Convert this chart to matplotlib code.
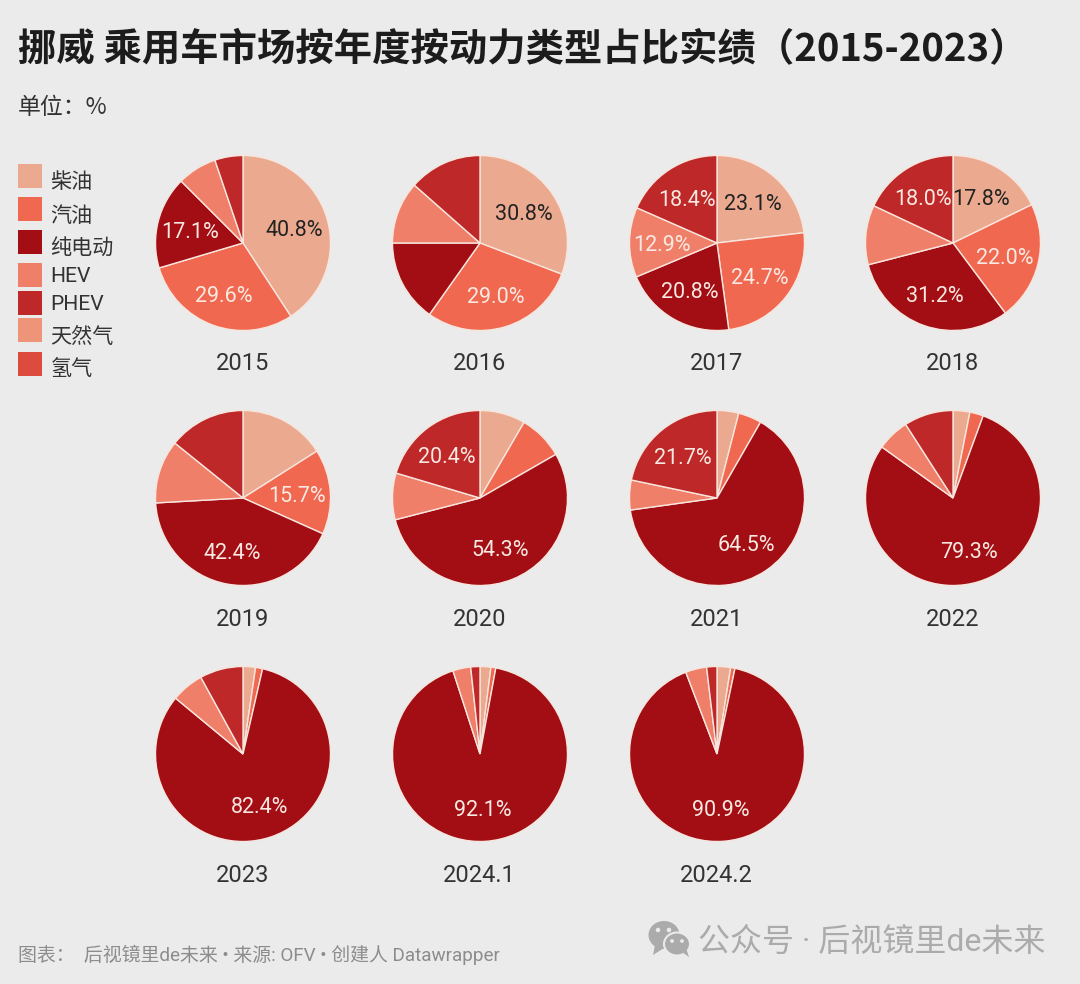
import numpy as np
import matplotlib
matplotlib.use('Agg')
import matplotlib.pyplot as plt
from matplotlib.patches import Rectangle, Ellipse, Polygon

plt.rcParams['font.family'] = ['Roboto', 'Noto Sans CJK SC', 'DejaVu Sans']

W, H = 1080, 984
BG = '#EBEBEB'

types = ['柴油', '汽油', '纯电动', 'HEV', 'PHEV', '天然气', '氢气']
colors = ['#EBAA90', '#F06850', '#A30D14', '#EF7F68', '#BE2828', '#EE9478', '#DC4B3E']

years = ['2015', '2016', '2017', '2018', '2019', '2020', '2021', '2022', '2023', '2024.1', '2024.2']

# share per year, in the order of types (only the first five are visible)
diesel = [40.8, 30.8, 23.1, 17.8, 16.0, 8.4, 4.0, 3.1, 2.3, 2.0, 2.5]
petrol = [29.6, 29.0, 24.7, 22.0, 15.7, 8.3, 4.3, 2.5, 1.3, 0.9, 0.8]
bev = [17.1, 15.2, 20.8, 31.2, 42.4, 54.3, 64.5, 79.3, 82.4, 92.1, 90.9]
hev = [7.3, 11.5, 12.9, 11.0, 11.7, 8.6, 5.5, 6.0, 6.0, 3.3, 3.9]
phev = [5.2, 13.5, 18.4, 18.0, 14.2, 20.4, 21.7, 9.1, 8.0, 1.7, 1.9]

# which slices carry a label, per year
labelled = [
    [0, 1, 2], [0, 1], [0, 1, 2, 3, 4], [0, 1, 2, 4], [1, 2], [2, 4],
    [2, 4], [2], [2], [2], [2],
]

legend_tops = [164, 197, 230, 263, 291, 318, 352]
legend_text_y = [182, 216, 249, 277, 305, 337, 369]
centers_x = [243, 480, 717, 953]
centers_y = [243, 498, 754]
year_y = [364, 620, 875]
R = 87.5

fig = plt.figure(figsize=(W / 100, H / 100), dpi=100, facecolor=BG)

# overlay in pixel coordinates for the text and the legend
bg = fig.add_axes([0, 0, 1, 1])
bg.set_xlim(0, W)
bg.set_ylim(H, 0)
bg.axis('off')

bg.text(18, 49, '挪威 乘用车市场按年度按动力类型占比实绩（2015-2023）', fontsize=27.6, fontweight='bold',
        family=['Noto Sans CJK SC'], color='#1c1c1c', va='center')
bg.text(18, 107, '单位：%', fontsize=16.5, color='#333333', va='center',
        family=['Noto Sans CJK SC'])

for name, col, top, ty in zip(types, colors, legend_tops, legend_text_y):
    bg.add_patch(Rectangle((18, top), 24, 24, fc=col, ec='none'))
    bg.text(50.5, ty, name, fontsize=15.2, color='#333333', va='center')

for i, year in enumerate(years):
    row, col = i // 4, i % 4
    cx, cy = centers_x[col], centers_y[row]
    ax = fig.add_axes([(cx - R - 2) / W, 1 - (cy + R + 2) / H, (2 * R + 4) / W, (2 * R + 4) / H])
    vals = [diesel[i], petrol[i], bev[i], hev[i], phev[i]]
    wedges, _ = ax.pie(vals, colors=colors[:5], startangle=90, counterclock=False, radius=R,
                       wedgeprops={'edgecolor': '#F7E6DE', 'linewidth': 1.0})
    ax.set_xlim(-R - 2, R + 2)
    ax.set_ylim(-R - 2, R + 2)
    for k in labelled[i]:
        mid = np.radians((wedges[k].theta1 + wedges[k].theta2) / 2)
        ax.text(0.62 * R * np.cos(mid) - 0.5, 0.62 * R * np.sin(mid) - 2.5, '%.1f%%' % vals[k], fontsize=15.5,
                color='#222222' if k == 0 else '#F8E9E2', ha='center', va='center')
    bg.text(cx - 0.5, year_y[row], year, fontsize=17, color='#333333', ha='center', va='center')

# footer
bg.text(18, 955, '图表：  后视镜里de未来 • 来源: OFV • 创建人 Datawrapper', fontsize=13.6,
        color='#8C8C8C', va='center')

# watermark
grey = '#ABABAB'
bg.add_patch(Ellipse((664, 935), 31, 28, fc=grey, ec='none'))
bg.add_patch(Polygon([[655, 945], [653, 955], [664, 948]], fc=grey, ec='none'))
bg.add_patch(Ellipse((677, 944), 26, 23, fc=grey, ec=BG, lw=1.5))
bg.add_patch(Polygon([[682, 952], [689, 957], [686, 948]], fc=grey, ec='none'))
for x, y in [(658, 930), (669, 930)]:
    bg.add_patch(Ellipse((x, y), 4.5, 4.5, fc=BG, ec='none'))
for x, y in [(672, 941), (682, 941)]:
    bg.add_patch(Ellipse((x, y), 3.8, 3.8, fc=BG, ec='none'))
bg.text(698, 942, '公众号 · 后视镜里de未来', fontsize=23, color=grey, va='center')

fig.savefig('out.png', dpi=100, facecolor=BG)
